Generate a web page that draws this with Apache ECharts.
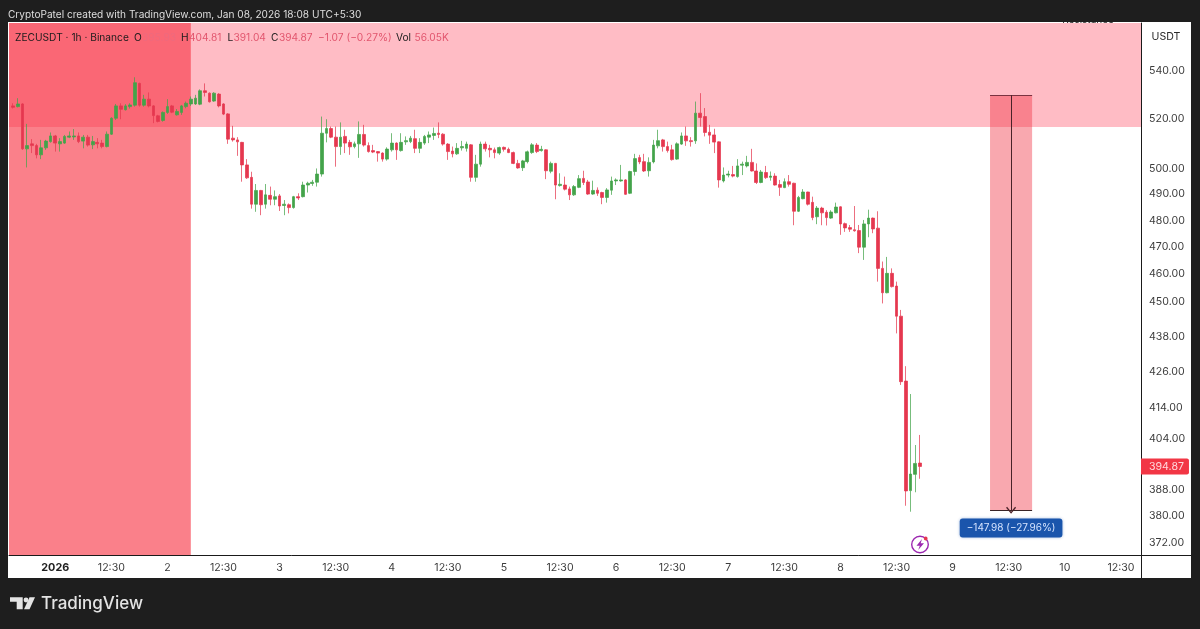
<!DOCTYPE html>
<html><head><meta charset="utf-8">
<style>html,body{margin:0;padding:0;background:#1e1e1e}#c{width:1200px;height:629px}</style>
<script src="https://cdn.jsdelivr.net/npm/echarts@6/dist/echarts.min.js"></script>
</head><body><div id="c"></div>
<script>
const firstHour = -9;
const opens = [
524.9,524.6,525.7,507.4,509.4,508.7,505.0,507.8,510.3,512.6,
509.4,509.7,512.1,512.2,512.6,510.5,512.1,509.0,510.0,509.7,
508.3,513.3,519.8,524.9,523.3,524.6,525.2,534.3,525.2,527.7,
524.9,520.8,518.9,522.2,524.9,521.2,522.2,524.6,525.7,525.7,
525.6,531.2,530.2,526.9,529.8,525.7,521.6,511.7,511.0,510.0,
501.0,496.1,485.7,491.0,485.7,489.1,487.6,488.9,485.2,485.5,
484.4,488.6,488.6,493.1,493.7,494.2,497.4,513.7,515.6,512.1,
508.3,512.4,510.0,508.3,509.4,513.2,508.7,506.7,506.3,505.7,
503.3,507.0,509.7,506.7,510.2,510.3,511.5,507.6,509.7,512.1,
512.8,513.7,513.3,509.3,506.5,505.4,507.8,507.6,509.0,496.1,
501.3,509.3,507.6,507.0,505.7,508.0,507.2,505.9,501.6,499.9,
502.3,505.9,508.9,506.7,507.0,498.5,501.6,492.9,493.1,491.6,
489.3,492.2,495.7,494.3,489.6,491.1,490.2,488.3,491.1,494.7,
494.7,495.1,489.9,498.4,503.9,502.3,498.7,502.2,508.6,511.0,
508.3,507.0,503.3,509.3,512.6,510.7,510.6,521.9,520.5,514.1,
513.0,510.2,494.7,497.0,497.2,496.4,500.9,500.6,502.0,498.6,
494.1,498.0,496.1,496.6,493.3,492.1,494.4,493.8,483.0,487.8,
490.4,486.4,480.9,484.2,482.6,480.4,482.4,484.7,478.3,476.8,
476.0,475.7,469.5,478.2,480.4,476.6,461.7,452.9,459.9,455.3,
444.6,422.4,387.4,392.4,395.93];
const closes = [
524.3,525.7,507.4,508.7,508.7,505.0,507.8,510.5,512.6,509.7,
510.3,512.4,512.6,512.6,510.3,512.1,508.9,510.3,509.4,508.3,
513.3,519.8,524.9,523.5,524.9,525.3,534.6,525.2,527.7,524.9,
520.9,518.5,522.2,524.6,522.3,522.6,524.9,526.0,527.7,528.1,
531.2,530.5,526.6,530.2,524.9,521.5,511.3,511.0,510.2,501.0,
495.9,485.7,491.0,485.5,489.3,487.6,488.6,485.0,485.7,484.4,
488.6,488.1,493.1,493.8,494.2,497.4,513.7,515.6,512.1,508.3,
512.1,509.7,508.2,509.4,513.2,508.9,506.3,506.1,505.7,503.3,
507.3,509.7,507.0,510.0,510.7,511.7,507.6,510.0,512.4,513.0,
513.6,513.2,509.3,506.3,505.4,507.6,508.3,509.3,496.1,501.3,
509.3,507.4,507.0,505.9,507.9,507.2,505.9,501.6,499.8,502.6,
506.2,509.0,506.3,507.2,498.7,501.6,493.1,493.4,491.5,489.3,
492.5,495.6,494.1,489.6,491.0,489.9,488.3,491.2,494.7,495.1,
495.1,489.5,498.4,503.5,502.2,498.6,502.0,508.9,510.7,508.3,
506.7,503.1,509.4,512.6,510.6,510.3,521.9,520.1,514.0,512.9,
510.1,495.1,497.0,497.4,496.6,500.6,501.3,502.0,498.6,494.1,
498.2,496.0,496.6,493.1,492.2,494.4,493.4,483.0,488.3,490.4,
485.7,480.6,484.2,482.4,480.6,482.7,484.6,478.2,476.7,476.2,
475.6,469.5,478.2,480.4,476.3,461.7,452.9,459.9,455.1,444.6,
422.2,387.3,392.5,395.8,394.87];
const lows = [
523.8,524.3,507.0,500.0,505.7,503.6,503.3,507.0,509.9,506.3,
506.3,509.4,511.7,511.0,509.7,507.6,508.3,507.3,507.6,507.6,
508.0,513.0,519.1,519.4,523.0,523.8,524.6,524.6,524.6,524.3,
517.8,518.1,518.4,521.6,521.9,520.9,521.2,523.9,524.9,525.3,
525.2,528.8,526.3,526.6,524.3,521.1,509.4,510.3,504.6,494.4,
495.5,484.0,482.8,481.5,484.0,485.3,485.3,483.1,481.5,482.2,
484.0,487.3,488.3,490.2,492.8,492.5,496.4,510.0,511.7,500.3,
505.0,505.7,505.0,507.6,503.8,508.3,505.9,505.7,502.3,502.3,
502.7,506.3,503.0,506.3,509.0,509.7,505.7,505.7,509.0,509.7,
511.0,511.7,508.7,503.0,504.0,505.0,506.7,506.3,494.4,494.4,
500.3,506.3,504.0,503.6,505.0,506.3,505.7,501.3,499.5,498.6,
501.6,505.4,505.7,506.3,495.4,497.7,487.6,492.5,491.0,487.3,
488.9,491.9,493.1,489.3,489.3,488.9,485.7,486.3,489.3,493.1,
494.4,489.3,489.6,496.8,501.3,498.2,496.4,501.6,507.6,506.3,
505.9,502.7,503.0,509.0,508.6,508.3,509.4,516.4,512.4,509.4,
505.7,492.1,494.1,496.1,496.1,496.0,497.0,500.0,498.4,493.5,
493.8,495.5,494.8,492.9,488.9,491.9,492.5,477.7,482.7,487.6,
485.2,479.6,478.1,477.7,477.6,480.1,482.2,474.1,475.2,475.2,
475.3,467.3,464.8,473.2,474.7,456.9,449.1,452.7,454.8,438.6,
421.1,382.8,381.0,386.9,391.04];
const highs = [
526.0,528.1,526.0,517.5,511.3,509.4,511.0,511.0,514.0,513.0,
511.7,513.0,514.4,515.4,514.0,513.0,513.0,512.6,511.7,511.0,
514.4,520.2,525.7,526.0,525.6,526.0,536.9,534.6,529.5,530.5,
525.2,521.2,522.6,527.7,525.3,523.6,525.3,526.7,528.8,529.5,
531.8,534.3,530.5,530.6,530.2,526.0,521.9,516.7,512.1,510.2,
503.3,498.3,493.5,491.2,493.5,492.5,491.0,489.6,487.3,486.0,
488.9,489.9,494.4,494.4,495.1,499.6,520.5,519.4,516.4,516.4,
518.1,515.1,511.0,510.3,518.5,517.1,510.0,509.0,506.5,506.0,
508.0,513.7,510.0,513.7,512.4,512.6,515.1,511.7,513.0,514.4,
516.0,518.1,513.7,509.7,508.3,509.7,510.6,510.3,509.3,505.0,
510.3,510.3,509.0,507.9,508.3,508.3,507.9,506.3,503.0,503.0,
506.7,509.7,509.7,508.6,507.2,502.3,501.8,497.7,496.4,492.5,
493.1,497.0,498.7,495.1,494.8,492.2,490.5,491.9,496.4,495.7,
501.0,495.4,498.7,505.4,505.0,505.4,504.0,511.0,515.1,511.4,
510.3,509.0,510.0,514.0,516.4,512.1,526.7,530.2,524.0,517.1,
515.5,510.4,500.0,498.7,500.6,503.3,502.3,504.6,507.4,501.6,
499.0,500.6,498.4,497.7,495.1,495.7,497.0,494.0,488.9,491.5,
490.5,488.6,485.0,484.7,483.4,483.4,486.3,484.9,478.7,477.8,
485.0,477.8,479.7,483.6,480.6,483.0,464.2,465.9,461.7,456.9,
446.8,427.4,418.1,401.6,404.81];

const priceTicks = [540,520,500,490,480,470,460,450,438,426,414,404,388,380,372];
const lastPrice = 394.87;
const xTickHours = [0,12,24,36,48,60,72,84,96,108,120,132,144,156,168,180,192,204,216,228];
const xTickLabels = ['2026','12:30','2','12:30','3','12:30','4','12:30','5','12:30','6','12:30','7','12:30','8','12:30','9','12:30','10','12:30'];
const xMin = -9.9, xMax = 232.3, yMin = 368.2, yMax = 560.4;
const resistanceLow = 516.2;
const redZoneEnd = 29;
const measure = {x0:200, x1:209, mid:204.5, top:529.4, bottom:381.42, labelPrice:376.1};

const FONT = 'Inter, Roboto, sans-serif';
const rows = opens.map((o,k)=>[firstHour+k,o,closes[k],lows[k],highs[k]]);
const chart = echarts.init(document.getElementById('c'),null,{renderer:'canvas'});
const txt = (x,y,text,color,size,extra)=>({type:'text',z:200,x,y,style:Object.assign({text,fill:color,font:(size||10.2)+'px '+FONT,textVerticalAlign:'middle'},extra||{})});
const LEG='#1c1c1c', VAL='#e2566e';
chart.setOption({
  animation:false,
  backgroundColor:'#1e1e1e',
  grid:{left:9,right:59,top:23,bottom:74,containLabel:false},
  xAxis:{type:'value',min:xMin,max:xMax,scale:true,splitLine:{show:false},
    axisLine:{show:true,onZero:false,lineStyle:{color:'#1a1a1a',width:1}},axisTick:{show:false},
    axisLabel:{customValues:xTickHours,margin:7,color:'#3c3c3c',fontFamily:FONT,fontSize:10.6,showMinLabel:true,showMaxLabel:true,hideOverlap:false,
      formatter:v=>{const s=xTickLabels[xTickHours.indexOf(v)];return s==='2026'?'{b|2026}':(s||'');},
      rich:{b:{fontWeight:'bold',fontSize:10.8,color:'#222',fontFamily:FONT}}}},
  yAxis:{type:'log',logBase:10,position:'right',min:yMin,max:yMax,splitLine:{show:false},
    axisLine:{show:true,onZero:false,lineStyle:{color:'#1a1a1a',width:1}},axisTick:{show:false},minorTick:{show:false},
    axisLabel:{customValues:priceTicks.concat([lastPrice]),margin:0,hideOverlap:false,align:'left',
      formatter:v=>v===lastPrice?'{tag|'+v.toFixed(2)+'}':'{n|'+v.toFixed(2)+'}',
      rich:{n:{color:'#3c3c3c',fontFamily:FONT,fontSize:10.6,padding:[2.5,0,0,8]},
            tag:{color:'#ffd9dd',backgroundColor:'#f23645',fontFamily:FONT,fontSize:10.6,padding:[3,5,2,8],borderRadius:[0,2,2,0]}}}},
  series:[{type:'candlestick',data:rows,encode:{x:0,y:[1,2,3,4]},barWidth:3.2,clip:true,
    itemStyle:{color:'#43a34a',color0:'#e5374f',borderColor:'rgba(67,163,74,.72)',borderColor0:'rgba(229,55,79,.72)',borderWidth:1},
    markArea:{silent:true,itemStyle:{borderWidth:0},data:[
      [{coord:[xMin,resistanceLow],itemStyle:{color:'rgba(255,54,80,.335)'}},{coord:[xMax,yMax]}],
      [{coord:[xMin,yMin],itemStyle:{color:'rgba(247,54,70,.63)'}},{coord:[redZoneEnd,yMax]}],
      [{coord:[measure.x0,measure.bottom],itemStyle:{color:'rgba(242,54,69,.43)'}},{coord:[measure.x1,measure.top]}]
    ]},
    markLine:{silent:true,symbol:'none',label:{show:false},animation:false,data:[
      [{coord:[measure.x0,measure.top],lineStyle:{color:'#7a3240',width:1,type:'solid'}},{coord:[measure.x1,measure.top]}],
      [{coord:[measure.x0,measure.bottom],lineStyle:{color:'#3a2426',width:1,type:'solid'}},{coord:[measure.x1,measure.bottom]}],
      [{coord:[measure.mid,measure.top],lineStyle:{color:'#4a2228',width:1,type:'solid'},symbol:'none'},
       {coord:[measure.mid,measure.bottom],symbol:'path://M5 0 L10 6 L9 7 L5 2 L1 7 L0 6 Z',symbolSize:[10,7]}]
    ]},
    markPoint:{silent:true,data:[{coord:[measure.mid,measure.labelPrice],symbol:'rect',symbolSize:[1,1],
      itemStyle:{color:'#1a55ac'},
      label:{show:true,position:'inside',formatter:'−147.98 (−27.96%)',color:'#d5e4ff',fontFamily:FONT,fontSize:10,
        backgroundColor:'#1a55ac',borderRadius:3,padding:[5,7,4,7],shadowBlur:3,shadowColor:'rgba(26,85,172,.4)'}}]}
  }],
  graphic:{elements:[
    {type:'rect',z:-10,shape:{x:8,y:22,width:1183,height:556},style:{fill:'#ffffff'}},
    {type:'line',z:5,shape:{x1:1141.5,y1:555,x2:1141.5,y2:578},style:{stroke:'#1a1a1a',lineWidth:1}},
    {type:'line',z:5,shape:{x1:1141,y1:555.5,x2:1191,y2:555.5},style:{stroke:'#1a1a1a',lineWidth:1}},
    {type:'text',z:20,x:1088,y:25,style:{text:'Resistance',fill:'#2a2a2a',font:'10px '+FONT,textAlign:'center',textVerticalAlign:'bottom'}},
    {type:'rect',z:30,shape:{x:0,y:0,width:1200,height:22},style:{fill:'#1e1e1e'}},
    txt(8,15,'CryptoPatel created with TradingView.com, Jan 08, 2026 18:08 UTC+5:30','#dedede',10.1),
    txt(15,37.5,'ZECUSDT · 1h · Binance',LEG),
    txt(134,37.5,'O',LEG),txt(142,37.5,'395.93','#ee6a7e'),
    txt(181,37.5,'H',LEG),txt(189,37.5,'404.81',VAL),
    txt(227.5,37.5,'L',LEG),txt(233.5,37.5,'391.04',VAL),
    txt(271,37.5,'C',LEG),txt(279,37.5,'394.87',VAL),
    txt(318,37.5,'−1.07 (−0.27%)',VAL),
    txt(396,37.5,'Vol',LEG),txt(414.5,37.5,'56.05K',VAL),
    txt(1166,37,'USDT','#2a2a2a',10.6,{textAlign:'center'}),
    // event marker
    {type:'circle',z:200,shape:{cx:920,cy:544.5,r:8.3},style:{fill:'#fff',stroke:'#9c27b0',lineWidth:1.4}},
    {type:'polygon',z:201,shape:{points:[[922,539],[916.5,545.8],[919.8,545.8],[918.2,550],[924,543.2],[920.7,543.2]]},style:{fill:'#9c27b0'}},
    {type:'circle',z:202,shape:{cx:925.7,cy:538.5,r:1.9},style:{fill:'#e5374f'}},
    // logo
    {type:'polygon',z:200,shape:{points:[[10,597.3],[22.7,597.3],[22.7,609.3],[16.7,609.3],[16.7,601.7],[10,601.7]]},style:{fill:'#e4e4e4'}},
    {type:'circle',z:200,shape:{cx:26,cy:600,r:2.4},style:{fill:'#e4e4e4'}},
    {type:'polygon',z:200,shape:{points:[[29.5,597.3],[35,597.3],[29.5,609.3],[24,609.3]]},style:{fill:'#e4e4e4'}},
    {type:'text',z:200,x:41,y:604,style:{text:'TradingView',fill:'#e4e4e4',font:'500 17px '+FONT,textVerticalAlign:'middle'}}
  ]}
});
</script></body></html>
